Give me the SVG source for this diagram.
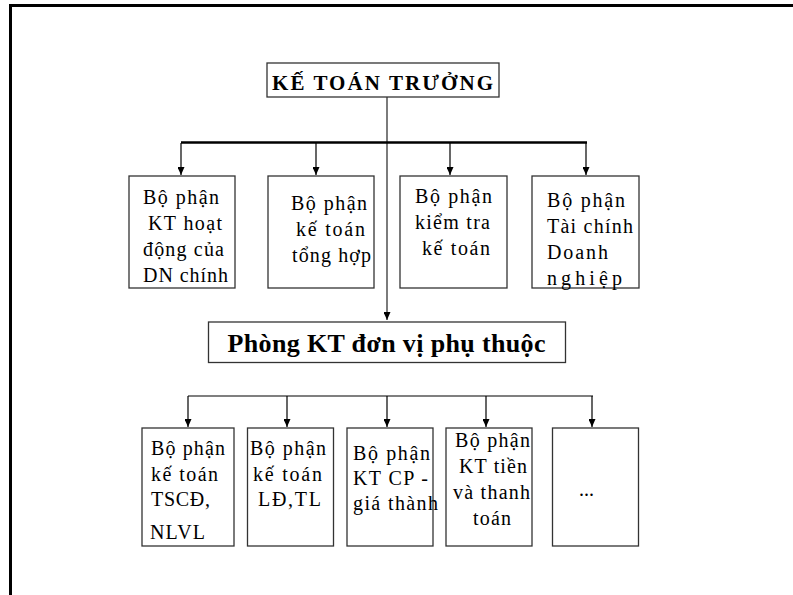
<svg xmlns="http://www.w3.org/2000/svg" width="793" height="595" viewBox="0 0 793 595">
<defs>
<marker id="ah" markerUnits="userSpaceOnUse" markerWidth="8" markerHeight="7" refX="8" refY="3.5" orient="auto">
<path d="M0,0 L8,3.5 L0,7 z" fill="#000"/>
</marker>
<style>
.frame{fill:none;stroke:#000;stroke-width:3}
.box{fill:#fff;stroke:#333;stroke-width:1.3}
.t{font-family:"Liberation Serif","Times New Roman",serif;font-size:20px;fill:#000}
.b{font-family:"Liberation Serif","Times New Roman",serif;font-weight:bold;fill:#000}
.ln{fill:none;stroke:#000;stroke-width:1.2}
.arr{fill:none;stroke:#000;stroke-width:1.2;marker-end:url(#ah)}
</style>
</defs>
<rect width="793" height="595" fill="#fff"/>
<rect class="frame" x="10.5" y="5.5" width="800" height="600"/>

<g id="connectors">
<line x1="387" y1="97" x2="387" y2="320" stroke="#444" stroke-width="1.4" marker-end="url(#ah)"/>
<line x1="181" y1="142.5" x2="587" y2="142.5" stroke="#000" stroke-width="2.5"/>
<line class="arr" x1="181" y1="143" x2="181" y2="175"/>
<line class="arr" x1="316" y1="143" x2="316" y2="175"/>
<line class="arr" x1="450" y1="143" x2="450" y2="175"/>
<line class="arr" x1="586" y1="143" x2="586" y2="175"/>
<line class="ln" x1="188" y1="396" x2="593" y2="396"/>
<line class="arr" x1="188" y1="396" x2="188" y2="427"/>
<line class="arr" x1="287" y1="396" x2="287" y2="427"/>
<line class="arr" x1="387" y1="396" x2="387" y2="427"/>
<line class="arr" x1="486" y1="396" x2="486" y2="427"/>
<line class="arr" x1="592" y1="396" x2="592" y2="427"/>
</g>

<g id="ke-toan-truong">
<rect class="box" x="267" y="63" width="232" height="34"/>
<text class="b" x="272" y="90" font-size="21" textLength="221" lengthAdjust="spacing">KẾ TOÁN TRƯỞNG</text>
</g>

<g id="bp-kt-hoat-dong">
<rect class="box" x="129" y="176" width="106" height="112"/>
<text class="t" x="143" y="204" textLength="76" lengthAdjust="spacing">Bộ phận</text>
<text class="t" x="148" y="230" textLength="74" lengthAdjust="spacing">KT hoạt</text>
<text class="t" x="143" y="256" textLength="81" lengthAdjust="spacing">động của</text>
<text class="t" x="143" y="282" textLength="85" lengthAdjust="spacing">DN chính</text>
</g>

<g id="bp-ke-toan-tong-hop">
<rect class="box" x="268" y="176" width="106" height="112"/>
<text class="t" x="291" y="210" textLength="76" lengthAdjust="spacing">Bộ phận</text>
<text class="t" x="296" y="236" textLength="69" lengthAdjust="spacing">kế toán</text>
<text class="t" x="292" y="262" textLength="79" lengthAdjust="spacing">tổng hợp</text>
</g>

<g id="bp-kiem-tra">
<rect class="box" x="400" y="176" width="107" height="112"/>
<text class="t" x="415" y="203" textLength="77" lengthAdjust="spacing">Bộ phận</text>
<text class="t" x="415" y="229" textLength="75" lengthAdjust="spacing">kiểm tra</text>
<text class="t" x="422" y="255" textLength="68" lengthAdjust="spacing">kế toán</text>
</g>

<g id="bp-tai-chinh">
<rect class="box" x="532" y="176" width="107" height="112"/>
<text class="t" x="547" y="207" textLength="78" lengthAdjust="spacing">Bộ phận</text>
<text class="t" x="547" y="233" textLength="86" lengthAdjust="spacing">Tài chính</text>
<text class="t" x="547" y="259" textLength="61" lengthAdjust="spacing">Doanh</text>
<text class="t" x="547" y="285" textLength="75" lengthAdjust="spacing">nghiệp</text>
</g>

<g id="phong-kt">
<rect class="box" x="208.5" y="322" width="357" height="40.5"/>
<text class="b" x="227.5" y="352" font-size="26" textLength="318" lengthAdjust="spacing">Phòng KT đơn vị phụ thuộc</text>
</g>

<g id="bp-tscd">
<rect class="box" x="142" y="428" width="92" height="118"/>
<text class="t" x="151" y="455" textLength="74" lengthAdjust="spacing">Bộ phận</text>
<text class="t" x="151" y="481" textLength="67" lengthAdjust="spacing">kế toán</text>
<text class="t" x="151" y="506" textLength="59" lengthAdjust="spacing">TSCĐ,</text>
<text class="t" x="150" y="539" textLength="55" lengthAdjust="spacing">NLVL</text>
</g>

<g id="bp-ld-tl">
<rect class="box" x="247.5" y="428" width="86" height="118"/>
<text class="t" x="250" y="455" textLength="76" lengthAdjust="spacing">Bộ phận</text>
<text class="t" x="253" y="481" textLength="69" lengthAdjust="spacing">kế toán</text>
<text class="t" x="258" y="506" textLength="63" lengthAdjust="spacing">LĐ,TL</text>
</g>

<g id="bp-kt-cp">
<rect class="box" x="347" y="428" width="86" height="118"/>
<text class="t" x="353" y="460" textLength="77" lengthAdjust="spacing">Bộ phận</text>
<text class="t" x="353" y="485" textLength="75" lengthAdjust="spacing">KT CP -</text>
<text class="t" x="353" y="510" textLength="85" lengthAdjust="spacing">giá thành</text>
</g>

<g id="bp-kt-tien">
<rect class="box" x="446" y="428" width="86" height="118"/>
<text class="t" x="455" y="447" textLength="75" lengthAdjust="spacing">Bộ phận</text>
<text class="t" x="459" y="473" textLength="68" lengthAdjust="spacing">KT tiền</text>
<text class="t" x="453" y="499" textLength="77" lengthAdjust="spacing">và thanh</text>
<text class="t" x="473" y="525" textLength="38" lengthAdjust="spacing">toán</text>
</g>

<g id="bp-khac">
<rect class="box" x="552.5" y="428" width="86" height="118"/>
<text class="t" x="579" y="496" font-size="15" fill="#333">...</text>
</g>
</svg>
